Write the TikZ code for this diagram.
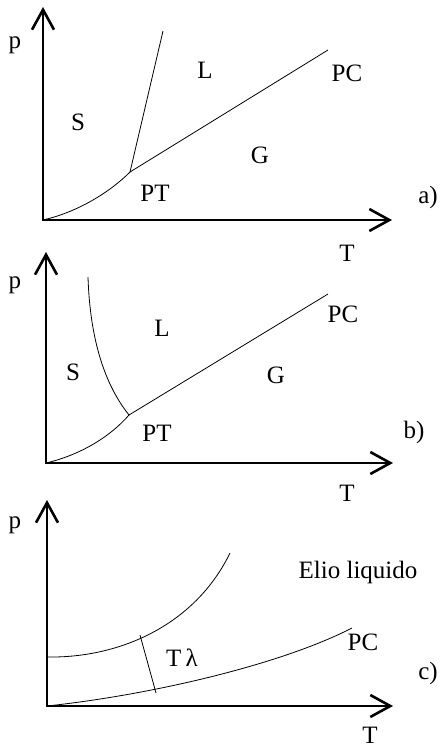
\documentclass[tikz,border=0pt]{standalone}
\usepackage{fontspec}
\setmainfont{Liberation Serif}
\usetikzlibrary{arrows.meta}
\tikzset{
  axis/.style={line width=2.6pt,line join=miter,
    {Straight Barb[length=20pt,width=22pt]}-{Straight Barb[length=20pt,width=22pt]}},
  phaseline/.style={line width=0.8pt},
  lbl/.style={font=\fontsize{25}{29}\selectfont,inner sep=0pt}
}

\begin{document}
\begin{tikzpicture}[x=1pt,y=-1pt]
  \useasboundingbox (0,0) rectangle (442,750);
  % a) normal substance
  \coordinate (Oa) at (43,220);
  \coordinate (Ya) at (43,7);
  \coordinate (Xa) at (392,220);
  \coordinate (PTa) at (130,172);
  \coordinate (Fa) at (163,31);
  \coordinate (Ca) at (328,50);
  \draw[axis] (Ya) -- (Oa) -- (Xa);
  \draw[phaseline] (Oa) .. controls (78,212) and (110,192) .. (PTa);
  \draw[phaseline] (PTa) -- (Fa);
  \draw[phaseline] (PTa) -- (Ca);
  \node[lbl] (pa) at (15,45) {p};
  \node[lbl] (La) at (205,70) {L};
  \node[lbl] (PCa) at (347,73) {PC};
  \node[lbl] (Sa) at (78,122) {S};
  \node[lbl] (Ga) at (260,155) {G};
  \node[lbl] (PTla) at (155,193) {PT};
  \node[lbl] (taga) at (428,197) {a)};
  \node[lbl] (Ta) at (347,253) {T};
  % b) water-like melting curve
  \coordinate (Ob) at (46,463);
  \coordinate (Yb) at (46,252);
  \coordinate (Xb) at (393,463);
  \coordinate (PTb) at (129,415);
  \coordinate (Fb) at (88,277);
  \coordinate (Cb) at (328,294);
  \draw[axis] (Yb) -- (Ob) -- (Xb);
  \draw[phaseline] (Ob) .. controls (80,455) and (110,437) .. (PTb);
  \draw[phaseline] (Fb) .. controls (90,340) and (105,385) .. (PTb);
  \draw[phaseline] (PTb) -- (Cb);
  \node[lbl] (pb) at (15,285) {p};
  \node[lbl] (Lb) at (162,328) {L};
  \node[lbl] (PCb) at (343,314) {PC};
  \node[lbl] (Sb) at (73,372) {S};
  \node[lbl] (Gb) at (276,375) {G};
  \node[lbl] (PTlb) at (157,433) {PT};
  \node[lbl] (tagb) at (414,432) {b)};
  \node[lbl] (Tb) at (347,493) {T};
  % c) helium
  \coordinate (Oc) at (47,706);
  \coordinate (Yc) at (47,500);
  \coordinate (Xc) at (393,706);
  \coordinate (Sc) at (48,657);
  \coordinate (Ec) at (230,553);
  \coordinate (Cc) at (352,628);
  \coordinate (lamtop) at (140,635);
  \coordinate (lambot) at (156,693);
  \draw[axis] (Yc) -- (Oc) -- (Xc);
  \draw[phaseline] (Sc) .. controls (120,658) and (195,625) .. (Ec);
  \draw[phaseline] (Oc) .. controls (150,695) and (280,665) .. (Cc);
  \draw[phaseline] (lamtop) -- (lambot);
  \node[lbl] (pc) at (15,525) {p};
  \node[lbl] (elio) at (358,572) {Elio liquido};
  \node[lbl] (PCc) at (363,642) {PC};
  \node[lbl] (Tlam) at (182,658) {T\,λ};
  \node[lbl] (tagc) at (428,673) {c)};
  \node[lbl] (Tc) at (370,735) {T};
\end{tikzpicture}
\end{document}
